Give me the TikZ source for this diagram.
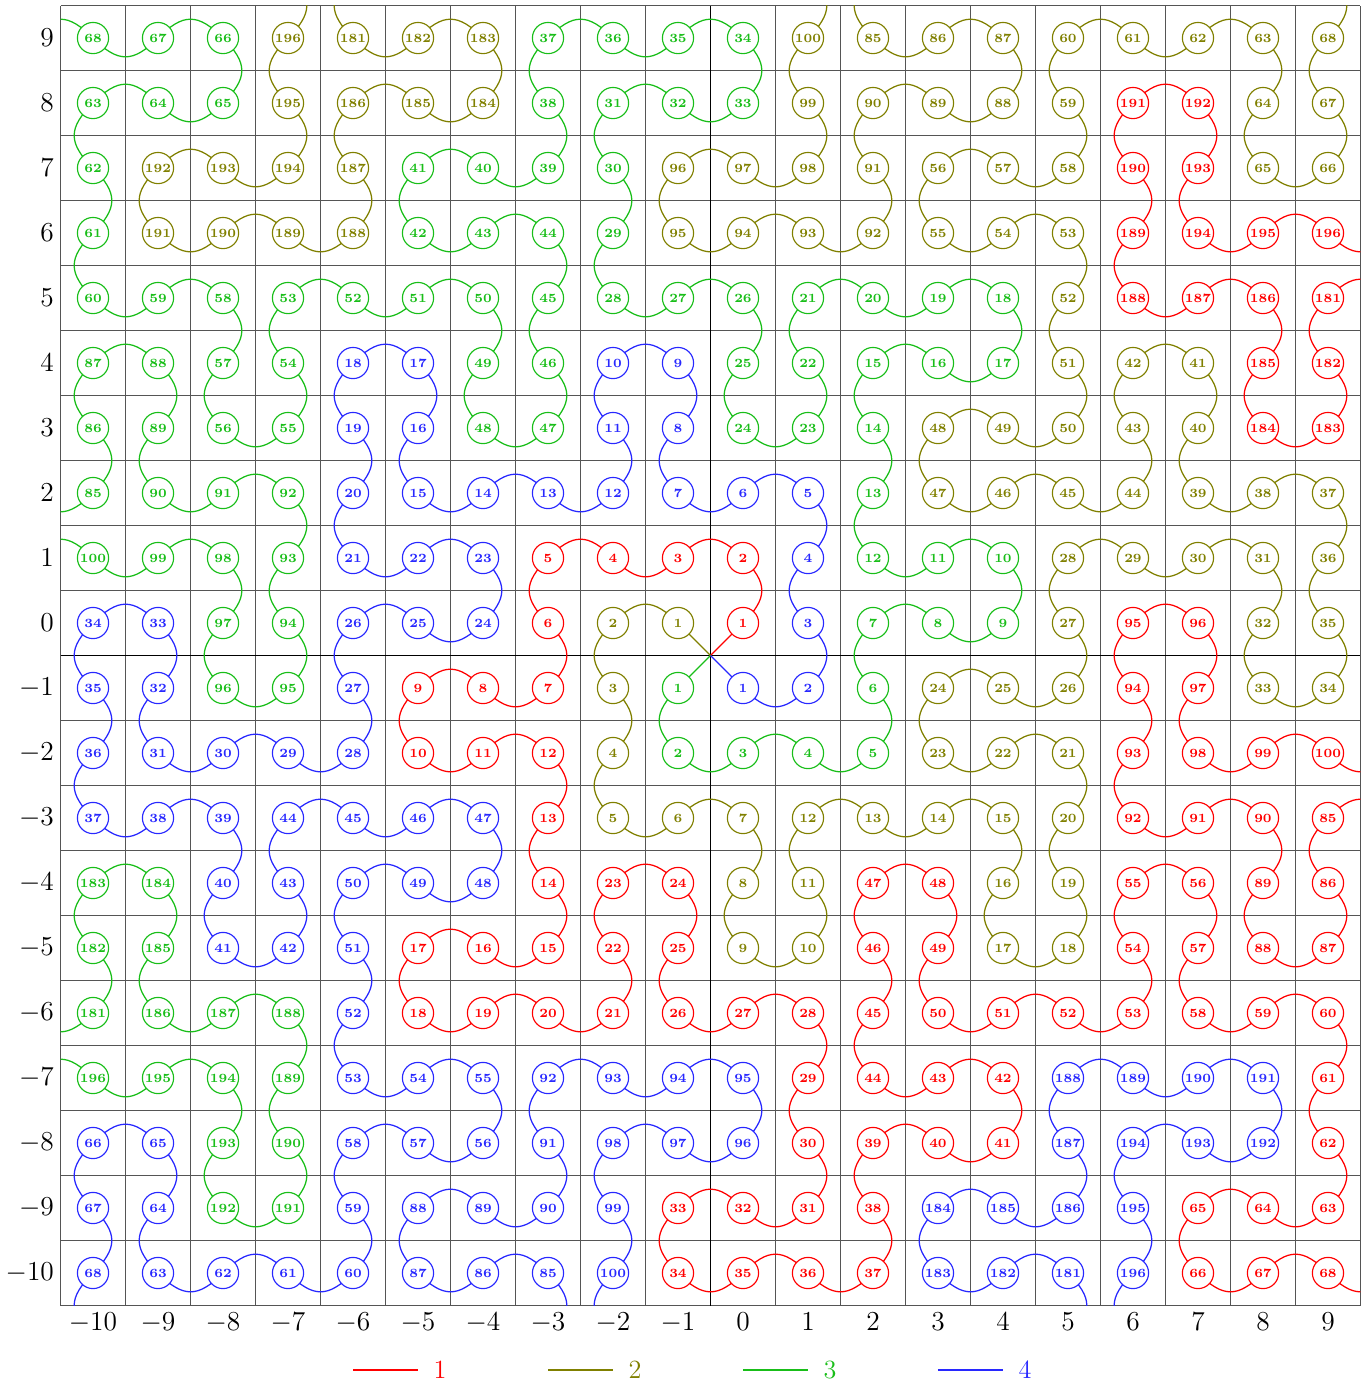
\documentclass[tikz,border=0pt]{standalone}
\usetikzlibrary{backgrounds}
\definecolor{armred}{RGB}{255,0,0}
\definecolor{armolive}{RGB}{128,128,0}
\definecolor{armgreen}{RGB}{25,190,25}
\definecolor{armblue}{RGB}{40,40,255}
\definecolor{gridgray}{RGB}{85,85,85}

% first arm (n/x/y/visible); the other three are this one turned about (-0.5,-0.5)
\newcommand\armcells{1/0/0/1, 2/0/1/1, 3/-1/1/1, 4/-2/1/1, 5/-3/1/1, 6/-3/0/1,
 7/-3/-1/1, 8/-4/-1/1, 9/-5/-1/1, 10/-5/-2/1, 11/-4/-2/1, 12/-3/-2/1, 13/-3/-3/1,
 14/-3/-4/1, 15/-3/-5/1, 16/-4/-5/1, 17/-5/-5/1, 18/-5/-6/1, 19/-4/-6/1, 20/-3/-6/1,
 21/-2/-6/1, 22/-2/-5/1, 23/-2/-4/1, 24/-1/-4/1, 25/-1/-5/1, 26/-1/-6/1, 27/0/-6/1,
 28/1/-6/1, 29/1/-7/1, 30/1/-8/1, 31/1/-9/1, 32/0/-9/1, 33/-1/-9/1, 34/-1/-10/1,
 35/0/-10/1, 36/1/-10/1, 37/2/-10/1, 38/2/-9/1, 39/2/-8/1, 40/3/-8/1, 41/4/-8/1,
 42/4/-7/1, 43/3/-7/1, 44/2/-7/1, 45/2/-6/1, 46/2/-5/1, 47/2/-4/1, 48/3/-4/1,
 49/3/-5/1, 50/3/-6/1, 51/4/-6/1, 52/5/-6/1, 53/6/-6/1, 54/6/-5/1, 55/6/-4/1,
 56/7/-4/1, 57/7/-5/1, 58/7/-6/1, 59/8/-6/1, 60/9/-6/1, 61/9/-7/1, 62/9/-8/1,
 63/9/-9/1, 64/8/-9/1, 65/7/-9/1, 66/7/-10/1, 67/8/-10/1, 68/9/-10/1, 69/10/-10/0,
 84/10/-3/0, 85/9/-3/1, 86/9/-4/1, 87/9/-5/1, 88/8/-5/1, 89/8/-4/1, 90/8/-3/1,
 91/7/-3/1, 92/6/-3/1, 93/6/-2/1, 94/6/-1/1, 95/6/0/1, 96/7/0/1, 97/7/-1/1,
 98/7/-2/1, 99/8/-2/1, 100/9/-2/1, 101/10/-2/0,
 180/10/5/0, 181/9/5/1, 182/9/4/1, 183/9/3/1, 184/8/3/1, 185/8/4/1, 186/8/5/1,
 187/7/5/1, 188/6/5/1, 189/6/6/1, 190/6/7/1, 191/6/8/1, 192/7/8/1, 193/7/7/1,
 194/7/6/1, 195/8/6/1, 196/9/6/1, 197/10/6/0}

\begin{document}
\begin{tikzpicture}[x=1cm, y=1cm,
  cell/.style={circle, draw=#1, fill=white, text=#1, line width=0.5pt,
               minimum size=4.8mm, inner sep=0pt, font=\fontsize{5.5}{6}\selectfont\bfseries},
  arm/.style={color=#1, line width=0.55pt, looseness=1.4},
  tick/.style={font=\fontsize{11.5}{13}\selectfont, inner sep=1pt}
]
  \useasboundingbox (-11.431,-11.723) rectangle (9.646,9.585);

  \begin{scope}[on background layer]
    \draw[gridgray, line width=0.4pt, shift={(-0.5,-0.5)}] (-10,-10) grid (10,10);
    \draw[black, line width=0.8pt] (-10.5,-0.5) -- (9.5,-0.5);
    \draw[black, line width=0.8pt] (-0.5,-10.5) -- (-0.5,9.5);
  \end{scope}
  \coordinate (origin) at (-0.5,-0.5);

  % tick labels
  \foreach \v [count=\i] in {-10,...,9}{
    \node[tick, anchor=north] (tx\i) at (\v,-10.565) {$\v$};
    \node[tick, anchor=east] (ty\i) at (-10.56,\v) {$\v$};
  }

  % numbered cells of the four arms
  \foreach \k/\c/\col in {0/r/armred, 1/o/armolive, 2/g/armgreen, 3/b/armblue}{
    \foreach \n/\x/\y/\v in \armcells {
      \pgfmathtruncatemacro\X{round(-0.5+(\x+0.5)*cos(90*\k)-(\y+0.5)*sin(90*\k))}
      \pgfmathtruncatemacro\Y{round(-0.5+(\x+0.5)*sin(90*\k)+(\y+0.5)*cos(90*\k))}
      \ifnum\v=1
        \node[cell=\col] (\c\n) at (\X,\Y) {\n};
      \else
        \coordinate (\c\n) at (\X,\Y);
      \fi
    }
  }

  % wiggly links, tangent along a diagonal at every centre
  \begin{scope}[on background layer]
    \clip (-10.5,-10.5) rectangle (9.5,9.5);
    \foreach \k/\c/\col in {0/r/armred, 1/o/armolive, 2/g/armgreen, 3/b/armblue}{
      \draw[arm=\col] (origin) -- (\c1.center);
      \foreach \n/\x/\y/\v [remember=\n as \pn (initially -5),
                            remember=\x as \px (initially 0),
                            remember=\y as \py (initially 0)] in \armcells {
        \ifnum\n=\numexpr\pn+1\relax
          \pgfmathtruncatemacro\dx{(\x)-(\px)}
          \pgfmathtruncatemacro\dy{(\y)-(\py)}
          \pgfmathtruncatemacro\pp{mod((\px)+(\py)+100,2)}
          \pgfmathtruncatemacro\aout{(\pp==0) ? (((\dx)+(\dy)>0) ? 45 : -135) : (((\dy)-(\dx)>0) ? 135 : -45)}
          \pgfmathtruncatemacro\ain{(\pp==1) ? ((-(\dx)-(\dy)>0) ? 45 : -135) : (((\dx)-(\dy)>0) ? 135 : -45)}
          \pgfmathtruncatemacro\aout{\aout+90*\k}
          \pgfmathtruncatemacro\ain{\ain+90*\k}
          \draw[arm=\col] (\c\pn.center) to[out=\aout, in=\ain] (\c\n.center);
        \fi
      }
    }
  \end{scope}

  % legend
  \foreach \k/\col/\lx in {1/armred/-6, 2/armolive/-3, 3/armgreen/0, 4/armblue/3}{
    \coordinate (la\k) at (\lx,-11.49);
    \coordinate (lb\k) at (\lx+1,-11.49);
    \draw[arm=\col, line width=0.7pt] (la\k) -- (lb\k);
    \node[tick, text=\col, anchor=west] (lg\k) at (\lx+1.2,-11.49) {\k};
  }
\end{tikzpicture}
\end{document}
